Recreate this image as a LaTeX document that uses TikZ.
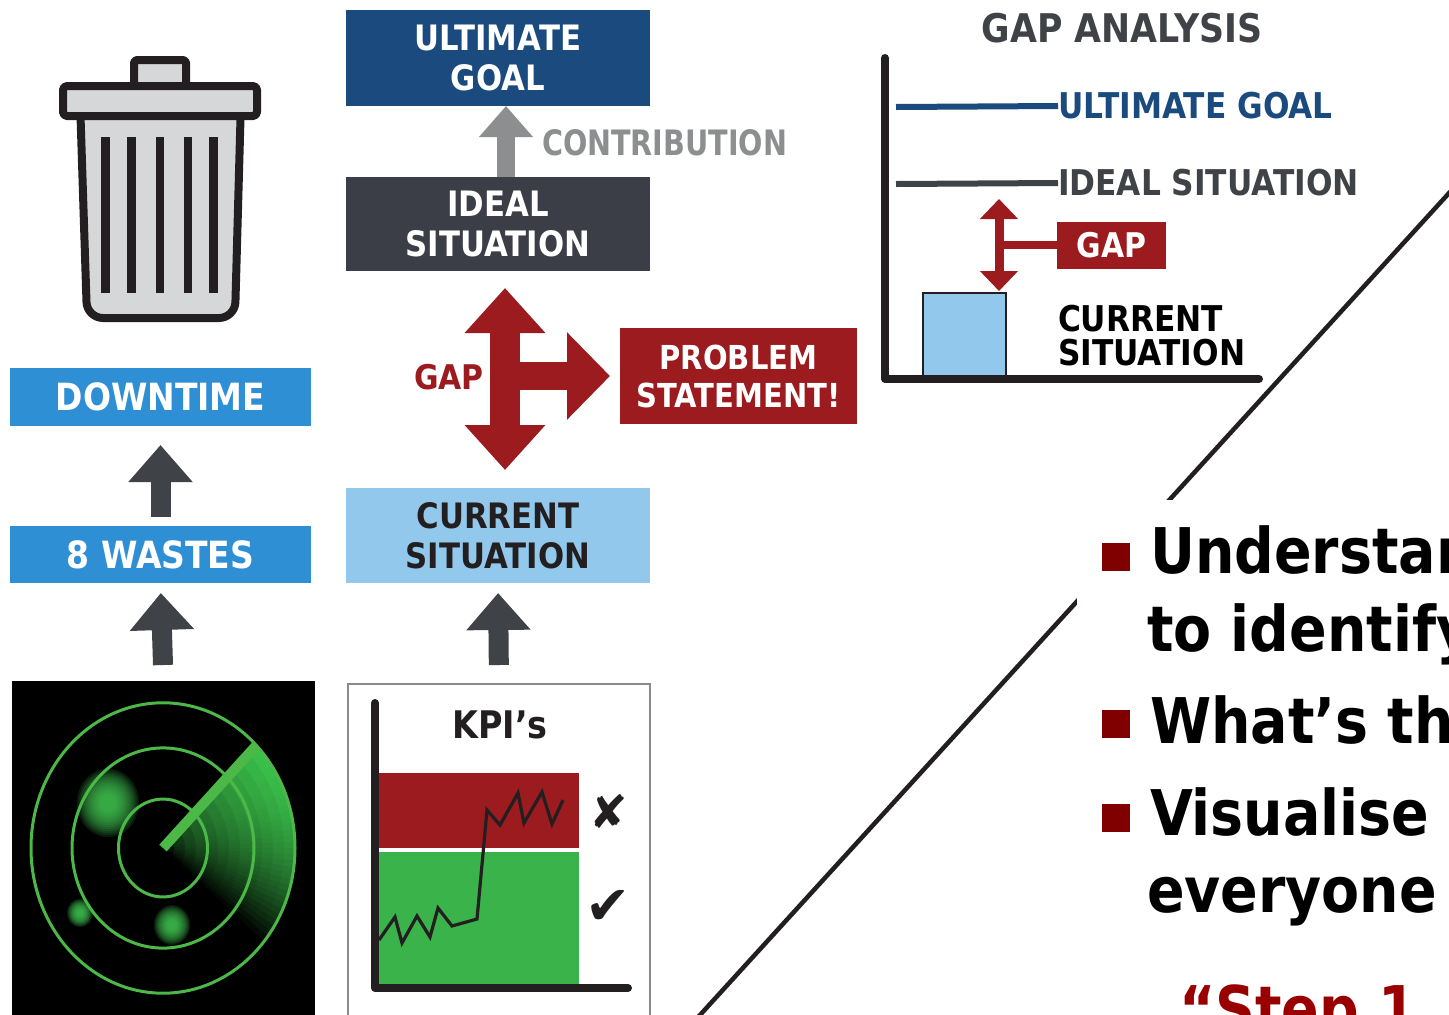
\documentclass[tikz,border=0pt]{standalone}
\usepackage{fontspec}
\newfontfamily\lbl{DejaVu Sans}[FakeStretch=0.88]
\newfontfamily\symf{DejaVu Sans}
\usetikzlibrary{arrows.meta}

% colours
\definecolor{cNavy}{HTML}{1B4A7E}
\definecolor{cSlate}{HTML}{3B3E47}
\definecolor{cLight}{HTML}{92C8EB}
\definecolor{cMid}{HTML}{2F8FD4}
\definecolor{cRed}{HTML}{9B1B1F}
\definecolor{cGrayArr}{HTML}{8C8E90}
\definecolor{cDark}{HTML}{3F4246}
\definecolor{cBul}{HTML}{800000}
\definecolor{cStep}{HTML}{990000}
\definecolor{cKpiG}{HTML}{3AB34A}
\definecolor{cRing}{HTML}{4CB847}
\definecolor{cSweep}{HTML}{3CC44C}
\definecolor{cBlip}{HTML}{44CC55}
\definecolor{cInk}{HTML}{231F20}
\definecolor{cCan}{HTML}{D6D7D8}
\definecolor{cFrame}{HTML}{8A8A8A}

% font sizes
\newcommand\fntLeft{\lbl\bfseries\fontsize{37.5}{43}\selectfont}
\newcommand\fntBox{\lbl\bfseries\fontsize{35}{40}\selectfont}
\newcommand\fntProb{\lbl\bfseries\fontsize{33}{38}\selectfont}
\newcommand\fntGap{\lbl\bfseries\fontsize{35.5}{34}\selectfont}
\newcommand\fntTitle{\lbl\bfseries\fontsize{39.5}{44}\selectfont}
\newcommand\fntBig{\lbl\bfseries\fontsize{63}{70}\selectfont}

\begin{document}
\begin{tikzpicture}[x=1pt,y=-1pt,
  every node/.style={inner sep=0pt,outer sep=0pt},
  colbox/.style={align=center,text=white},
  blockarrow/.style={draw=cDark,line width=20pt,-{Triangle[width=62pt,length=37pt]}},
  contribarrow/.style={draw=cGrayArr,line width=18pt,-{Triangle[width=52pt,length=31pt]}},
  gapcross/.style={draw=cRed,line width=30pt,{Triangle[width=78pt,length=45pt]}-{Triangle[width=78pt,length=45pt]}},
  gapright/.style={draw=cRed,line width=28pt,-{Triangle[width=85pt,length=43pt]}},
  gapsmall/.style={draw=cRed,line width=9pt,{Triangle[width=37pt,length=20pt]}-{Triangle[width=37pt,length=20pt]}},
  bullettext/.style={anchor=base west,font=\fntBig,text=black}]

\useasboundingbox (0,0) rectangle (1449,1015);
\clip (0,0) rectangle (1449,1015);
\fill[white] (0,0) rectangle (1449,1015);

% ---------- waste bin ----------
\begin{scope}[draw=cInk,line width=8pt,line join=round]
  \filldraw[fill=cCan,rounded corners=16pt] (80,100) -- (87,318) -- (235,318) -- (241,100) -- cycle;
  \foreach \bx in {105.5,131.5,160,188,213.5}
    \draw[line width=8.5pt] (\bx,137) -- (\bx,293);
  \filldraw[fill=cCan,rounded corners=3pt] (134,60) rectangle (186,88);
  \filldraw[fill=cCan,rounded corners=4pt] (63,86) rectangle (257,116);
\end{scope}

% ---------- left column ----------
\node[colbox,fill=cMid,minimum width=301pt,minimum height=58pt,font=\fntLeft] (dt) at (160.5,397) {DOWNTIME};
\node[colbox,fill=cMid,minimum width=301pt,minimum height=57pt,font=\fntLeft] (w8) at (160.5,554.5) {8 WASTES};
\node[fill=black,minimum width=303pt,minimum height=350pt,anchor=north west] (radar) at (12,681) {};

% radar screen: glowing blips, sweep trail, rings and beam
\begin{scope}[shift={(163,848)},yscale=-1.1]
  \foreach \bxy/\br in {{(-55,41)}/24, {(-83,-59)}/10, {(9,-70)}/14} {
    \foreach \k in {0,...,13}
      \fill[cBlip,opacity=0.12] \bxy circle ({\br*(1.3-0.075*\k)});
  }
  \begin{scope}
    \clip (0,0) -- (45:132) arc[start angle=45,end angle=-40,radius=132] -- cycle;
    \foreach \i in {0,...,33} {
      \foreach \j in {0,...,11} {
        \pgfmathtruncatemacro\p{100*(1-(\i/34)^2.2)*((\j+0.5)/12)^0.55}
        \pgfmathsetmacro\aa{45-2.5*\i}
        \pgfmathsetmacro\ab{45-2.5*(\i+1.3)}
        \pgfmathsetmacro\ra{11*\j}
        \pgfmathsetmacro\rb{11*(\j+1)+1}
        \fill[cSweep!\p!black] (\aa:\ra) -- (\aa:\rb) -- (\ab:\rb) -- (\ab:\ra) -- cycle;
      }
    }
  \end{scope}
  \draw[cRing,line width=3pt] (0,0) circle (132) (0,0) circle (91) (0,0) circle (44.5);
  \draw[cRing,line width=10pt] (0,0) -- (45:132);
\end{scope}

\draw[blockarrow,shorten <=9pt,shorten >=19pt] (w8.north) -- (dt.south);
\draw[blockarrow,shorten <=16pt,shorten >=10pt] (radar.north) -- (w8.south);

% ---------- middle column ----------
\node[colbox,fill=cNavy,minimum width=304pt,minimum height=96pt,font=\fntBox] (ug) at (498,58) {ULTIMATE\\GOAL};
\node[colbox,fill=cSlate,minimum width=304pt,minimum height=94pt,font=\fntBox] (is) at (498,224) {IDEAL\\SITUATION};
\node[colbox,fill=cLight,text=cInk,minimum width=304pt,minimum height=95pt,font=\fntBox] (cs) at (498,535.5) {CURRENT\\SITUATION};
\node[colbox,fill=cRed,minimum width=237pt,minimum height=96pt,font=\fntProb] (ps) at (738.5,376) {PROBLEM\\STATEMENT!};
\node[font=\fntBox,text=cGrayArr,anchor=west,xscale=0.93] (contrib) at (542,143) {CONTRIBUTION};
\node[font=\lbl\bfseries\fontsize{34}{38}\selectfont,text=cRed] (gapl) at (449,377) {GAP};

\draw[contribarrow] ([xshift=8pt]is.north) -- ([xshift=8pt]ug.south);
\draw[gapcross,shorten <=17pt,shorten >=18pt] ([xshift=7pt]is.south) -- ([xshift=7pt]cs.north);
\coordinate (gx) at ([xshift=7pt]is.south |- ps.west);
\draw[gapright,shorten >=10pt] (gx) -- (ps.west);

% KPI chart
\node[draw=cFrame,line width=1.5pt,minimum width=302pt,minimum height=350pt,anchor=north west] (kpi) at (348,684) {};
\draw[blockarrow,shorten <=19pt,shorten >=10pt] (kpi.north) -- (cs.south);
\fill[cRed] (379,773) rectangle (579,848);
\fill[cKpiG] (379,852) rectangle (579,985);
\draw[cInk,line width=8pt,line cap=round,line join=round] (375,703) -- (375,988) -- (628,988);
\draw[cInk,line width=3.2pt,line join=miter] (379,940) -- (395,917) -- (402,943) -- (417,916) -- (430,937)
  -- (438,908) -- (452,926) -- (477,919) -- (487,810) -- (500,825) -- (518,793) -- (524,823)
  -- (542,792) -- (552,824) -- (563,800);
\node[font=\lbl\bfseries\fontsize{38}{42}\selectfont,text=cInk] (kpit) at (500,725) {KPI’s};
\node[font=\symf\bfseries\fontsize{46}{46}\selectfont,text=cInk] (xm) at (609,812) {✘};
\node[font=\symf\bfseries\fontsize{54}{54}\selectfont,text=cInk] (ck) at (608,907) {✔};

% ---------- gap analysis ----------
\node[font=\fntTitle,text=cDark] (gat) at (1122,28) {GAP ANALYSIS};
\coordinate (atop) at (885,58);
\coordinate (aorig) at (885,379);
\coordinate (aend) at (1259,379);
\draw[cInk,line width=8pt,line cap=round,line join=round] (atop) -- (aorig) -- (aend);

\node[font=\fntGap,text=cNavy,anchor=west] (ugt) at (1058,106) {ULTIMATE GOAL};
\node[font=\fntGap,text=cDark,anchor=west] (ist) at (1058,183) {IDEAL SITUATION};
\coordinate (ugl) at (896,107);
\coordinate (isl) at (896,184);
\draw[cNavy,line width=6pt] (ugl) -- (ugt.west);
\draw[cDark,line width=6pt] (isl) -- (ist.west);

\node[draw=cInk,line width=2pt,fill=cLight,minimum width=83pt,minimum height=83pt] (cb) at (964.5,334.5) {};
\node[font=\fntGap,text=black,anchor=west,align=left] (cst) at (1058,336) {CURRENT\\SITUATION};
\node[colbox,fill=cRed,minimum width=109pt,minimum height=47pt,font=\lbl\bfseries\fontsize{34}{38}\selectfont] (gb) at (1111.5,245) {GAP};

\coordinate (ia) at (999,184);
\draw[gapsmall,shorten <=15pt,shorten >=2pt] (ia) -- (ia |- cb.north);
\draw[cRed,line width=8pt] (ia |- gb.west) -- (gb.west);

% ---------- divider and notes ----------
\draw[cInk,line width=4.5pt] (1460,181) -- (690,1026);
\fill[white] (1077,500) rectangle (1460,1030);

\node[fill=cBul,minimum size=28pt] (b1) at (1116,557) {};
\node[fill=cBul,minimum size=28pt] (b2) at (1116,724) {};
\node[fill=cBul,minimum size=28pt] (b3) at (1116,818) {};
\node[bullettext] (l1) at (1150,573) {Understand};
\node[bullettext] (l2) at (1147,651) {to identify};
\node[bullettext] (l3) at (1150,743) {What’s the};
\node[bullettext] (l4) at (1150,835) {Visualise};
\node[bullettext] (l5) at (1147,912) {everyone};
\node[bullettext,text=cStep] (l6) at (1179,1031) {“Step 1};
\end{tikzpicture}
\end{document}
